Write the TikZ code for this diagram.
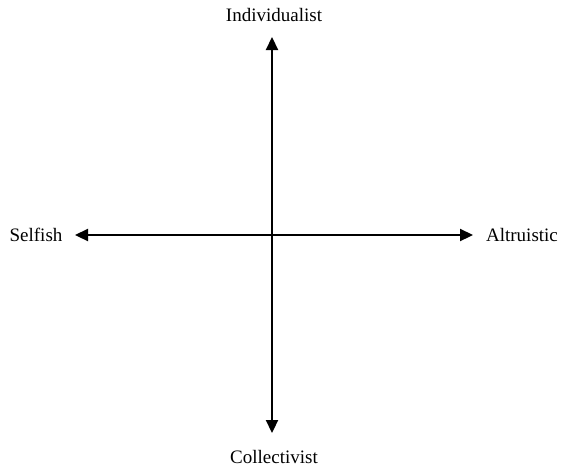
\documentclass[tikz,border=0pt]{standalone}
\usepackage{fontspec}
\setmainfont{Liberation Serif}
\usetikzlibrary{arrows.meta}
\begin{document}
\begin{tikzpicture}[x=1pt,y=-1pt,
  axis/.style={line width=2.2pt,-{Triangle[length=13pt,width=12pt]}},
  lbl/.style={font=\fontsize{19}{22}\selectfont,inner sep=0pt}]
\useasboundingbox (0,0) rectangle (561,469);
\coordinate (c) at (272,235);
\coordinate (top) at (272,37);
\coordinate (bot) at (272,433);
\coordinate (lft) at (75,235);
\coordinate (rgt) at (473,235);
\node[lbl] (ind) at (274,15) {Individualist};
\node[lbl] (col) at (274,457) {Collectivist};
\node[lbl] (self) at (36,235) {Selfish};
\node[lbl] (alt) at (522,235) {Altruistic};
\draw[axis] (c) -- (top);
\draw[axis] (c) -- (bot);
\draw[axis] (c) -- (lft);
\draw[axis] (c) -- (rgt);
\end{tikzpicture}
\end{document}
